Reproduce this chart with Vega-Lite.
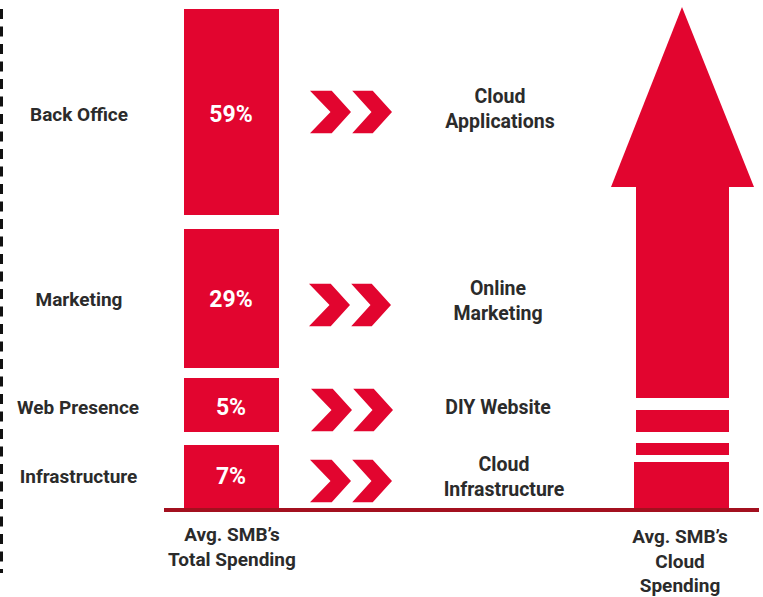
{
  "$schema": "https://vega.github.io/schema/vega-lite/v6.json",
  "width": 763,
  "height": 597,
  "padding": 0,
  "autosize": {"type": "none"},
  "background": "white",
  "config": {
    "view": {"stroke": null},
    "font": "Roboto",
    "text": {"font": "Roboto", "fontWeight": "bold"}
  },
  "datasets": {
    "spend": [
      {"segment": "Back Office", "share": "59%", "left": 36.8, "right": 55.8, "top": 100.2, "bottom": 59.0, "mid": 79.0, "labelx": 15.8, "sharex": 46.2},
      {"segment": "Marketing", "share": "29%", "left": 36.8, "right": 55.8, "top": 56.2, "bottom": 28.4, "mid": 42.0, "labelx": 15.8, "sharex": 46.2},
      {"segment": "Web Presence", "share": "5%", "left": 36.8, "right": 55.8, "top": 26.4, "bottom": 15.6, "mid": 20.4, "labelx": 15.6, "sharex": 46.2},
      {"segment": "Infrastructure", "share": "7%", "left": 36.8, "right": 55.8, "top": 13.0, "bottom": 0, "mid": 6.6, "labelx": 15.7, "sharex": 46.2}
    ],
    "chevrons": [
      {"from": "Back Office", "cx": 70.2, "cy": 79.6},
      {"from": "Marketing", "cx": 70.0, "cy": 41.0},
      {"from": "Web Presence", "cx": 70.4, "cy": 20.0},
      {"from": "Infrastructure", "cx": 70.2, "cy": 5.8}
    ],
    "cloud": [
      {"lines": ["Cloud", "Applications"], "x": 100.0, "y": 82.6},
      {"lines": ["Online", "Marketing"], "x": 99.6, "y": 44.2},
      {"lines": ["DIY Website"], "x": 99.6, "y": 20.4},
      {"lines": ["Cloud", "Infrastructure"], "x": 100.8, "y": 9.0}
    ],
    "shaft": [
      {"part": "shaft", "x0": 127.2, "x1": 145.8, "y0": 22.4, "y1": 64.6},
      {"part": "stripe 1", "x0": 127.2, "x1": 145.8, "y0": 15.6, "y1": 20.0},
      {"part": "stripe 2", "x0": 127.2, "x1": 145.8, "y0": 11.0, "y1": 13.4},
      {"part": "base", "x0": 126.8, "x1": 145.8, "y0": 0, "y1": 9.6}
    ],
    "head": [
      {"x": 122.2, "y": 64.6, "base": 64.6},
      {"x": 136.4, "y": 100.6, "base": 64.6},
      {"x": 150.8, "y": 64.6, "base": 64.6}
    ],
    "axisline": [{"x": 32.8, "x2": 151.8, "y": 0}],
    "dashed": [{"x": 0.3, "y": 100.2, "y2": -12.6}],
    "footer": [
      {"lines": ["Avg. SMB’s", "Total Spending"], "x": 46.4, "y": -5.0},
      {"lines": ["Avg. SMB’s", "Cloud", "Spending"], "x": 136.0, "y": -5.4}
    ]
  },
  "layer": [
    {
      "data": {"name": "dashed"},
      "mark": {"type": "rule", "color": "#111111", "strokeWidth": 3, "strokeDash": [10, 7.5]},
      "encoding": {
        "x": {"field": "x", "type": "quantitative", "scale": {"domain": [0, 152.6], "nice": false, "zero": false}, "axis": null},
        "y": {"field": "y", "type": "quantitative", "scale": {"domain": [-17.4, 102], "nice": false, "zero": false}, "axis": null},
        "y2": {"field": "y2"}
      }
    },
    {
      "data": {"name": "spend"},
      "mark": {"type": "rect", "color": "#E2052F"},
      "encoding": {
        "x": {"field": "left", "type": "quantitative", "scale": {"domain": [0, 152.6], "nice": false, "zero": false}, "axis": null},
        "x2": {"field": "right"},
        "y": {"field": "top", "type": "quantitative", "scale": {"domain": [-17.4, 102], "nice": false, "zero": false}, "axis": null},
        "y2": {"field": "bottom"}
      }
    },
    {
      "data": {"name": "shaft"},
      "mark": {"type": "rect", "color": "#E2052F"},
      "encoding": {
        "x": {"field": "x0", "type": "quantitative", "scale": {"domain": [0, 152.6], "nice": false, "zero": false}, "axis": null},
        "x2": {"field": "x1"},
        "y": {"field": "y1", "type": "quantitative", "scale": {"domain": [-17.4, 102], "nice": false, "zero": false}, "axis": null},
        "y2": {"field": "y0"}
      }
    },
    {
      "data": {"name": "head"},
      "mark": {"type": "area", "color": "#E2052F", "opacity": 1, "interpolate": "linear"},
      "encoding": {
        "x": {"field": "x", "type": "quantitative", "scale": {"domain": [0, 152.6], "nice": false, "zero": false}, "axis": null},
        "y": {"field": "y", "type": "quantitative", "scale": {"domain": [-17.4, 102], "nice": false, "zero": false}, "axis": null},
        "y2": {"field": "base"}
      }
    },
    {
      "data": {"name": "axisline"},
      "mark": {"type": "rule", "color": "#A3101F", "strokeWidth": 4},
      "encoding": {
        "x": {"field": "x", "type": "quantitative", "scale": {"domain": [0, 152.6], "nice": false, "zero": false}, "axis": null},
        "x2": {"field": "x2"},
        "y": {"field": "y", "type": "quantitative", "scale": {"domain": [-17.4, 102], "nice": false, "zero": false}, "axis": null}
      }
    },
    {
      "data": {"name": "chevrons"},
      "mark": {
        "type": "point",
        "filled": true,
        "opacity": 1,
        "color": "#E2052F",
        "strokeWidth": 0,
        "size": 6724,
        "shape": "M-1,-0.52L-0.47,-0.52L0,0L-0.47,0.52L-1,0.52L-0.5,0Z M0.03,-0.52L0.53,-0.52L1,0L0.53,0.52L0.03,0.52L0.5,0Z"
      },
      "encoding": {
        "x": {"field": "cx", "type": "quantitative", "scale": {"domain": [0, 152.6], "nice": false, "zero": false}, "axis": null},
        "y": {"field": "cy", "type": "quantitative", "scale": {"domain": [-17.4, 102], "nice": false, "zero": false}, "axis": null}
      }
    },
    {
      "data": {"name": "spend"},
      "mark": {"type": "text", "color": "#2B2B2B", "fontSize": 19, "align": "center", "baseline": "middle"},
      "encoding": {
        "x": {"field": "labelx", "type": "quantitative", "scale": {"domain": [0, 152.6], "nice": false, "zero": false}, "axis": null},
        "y": {"field": "mid", "type": "quantitative", "scale": {"domain": [-17.4, 102], "nice": false, "zero": false}, "axis": null},
        "text": {"field": "segment"}
      }
    },
    {
      "data": {"name": "spend"},
      "mark": {"type": "text", "color": "#FFFFFF", "fontSize": 23, "align": "center", "baseline": "middle"},
      "encoding": {
        "x": {"field": "sharex", "type": "quantitative", "scale": {"domain": [0, 152.6], "nice": false, "zero": false}, "axis": null},
        "y": {"field": "mid", "type": "quantitative", "scale": {"domain": [-17.4, 102], "nice": false, "zero": false}, "axis": null},
        "text": {"field": "share"}
      }
    },
    {
      "data": {"name": "cloud"},
      "mark": {"type": "text", "color": "#2B2B2B", "fontSize": 19.5, "align": "center", "baseline": "middle", "lineHeight": 25},
      "encoding": {
        "x": {"field": "x", "type": "quantitative", "scale": {"domain": [0, 152.6], "nice": false, "zero": false}, "axis": null},
        "y": {"field": "y", "type": "quantitative", "scale": {"domain": [-17.4, 102], "nice": false, "zero": false}, "axis": null},
        "text": {"field": "lines"}
      }
    },
    {
      "data": {"name": "footer"},
      "mark": {"type": "text", "color": "#2B2B2B", "fontSize": 19, "align": "center", "baseline": "middle", "lineHeight": 24.5},
      "encoding": {
        "x": {"field": "x", "type": "quantitative", "scale": {"domain": [0, 152.6], "nice": false, "zero": false}, "axis": null},
        "y": {"field": "y", "type": "quantitative", "scale": {"domain": [-17.4, 102], "nice": false, "zero": false}, "axis": null},
        "text": {"field": "lines"}
      }
    }
  ]
}
